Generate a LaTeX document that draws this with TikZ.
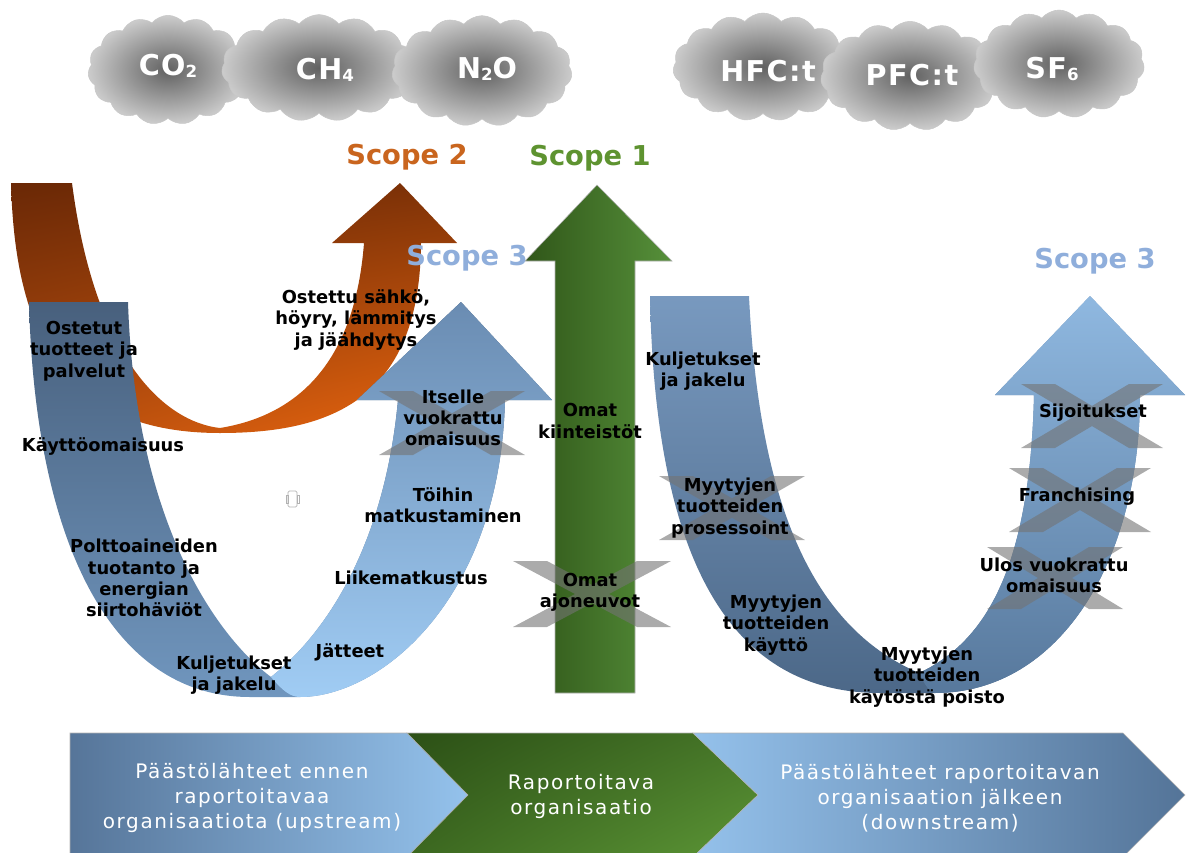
\documentclass[tikz,border=0pt]{standalone}
\usepackage{fontspec}
\setmainfont{DejaVu Sans}
\newfontfamily\cloudfont[LetterSpace=5]{DejaVu Sans}
\newfontfamily\chevfont[LetterSpace=8]{DejaVu Sans}
\usetikzlibrary{shapes.symbols,shadings}
\definecolor{sctwo}{HTML}{C9651E}
\definecolor{scone}{HTML}{5E9330}
\definecolor{scthree}{HTML}{8FAEDB}
\definecolor{orUL}{HTML}{6A2806}
\definecolor{orUR}{HTML}{7E3207}
\definecolor{orLL}{HTML}{B44D0E}
\definecolor{orLR}{HTML}{EA660E}
\definecolor{luDT}{HTML}{48607D}
\definecolor{luDB}{HTML}{7096BE}
\definecolor{luRT}{HTML}{6A8CB2}
\definecolor{luRB}{HTML}{A0CCF4}
\definecolor{grL}{HTML}{305619}
\definecolor{grR}{HTML}{56903A}
\definecolor{ruDT}{HTML}{7899BF}
\definecolor{ruDB}{HTML}{4C6888}
\definecolor{ruRT}{HTML}{8FB8E0}
\definecolor{ruRB}{HTML}{57789C}
\definecolor{chL1}{HTML}{567599}
\definecolor{chR1}{HTML}{94C2EC}
\definecolor{cgUL}{HTML}{2C5016}
\definecolor{cgUR}{HTML}{467628}
\definecolor{cgLL}{HTML}{3C6820}
\definecolor{cgLR}{HTML}{5C9636}
\definecolor{chL3}{HTML}{94C1EB}
\definecolor{chR3}{HTML}{547498}
\newcommand\gsub[1]{\raisebox{-2pt}{\fontsize{12.5}{12.5}\selectfont #1}}
\newcommand\grayx[4]{%
  \fill[xfill] ({#1-#3},{#2-#4}) -- ({#1-#3+34},{#2-#4}) -- ({#1+#3},{#2+#4}) -- ({#1+#3-34},{#2+#4}) -- cycle
               ({#1-#3+34},{#2+#4}) -- ({#1-#3},{#2+#4}) -- ({#1+#3-34},{#2-#4}) -- ({#1+#3},{#2-#4}) -- cycle;}
\begin{document}
\begin{tikzpicture}[x=0.75pt,y=-0.75pt,
  cloudnode/.style={cloud, cloud puffs=15, cloud puff arc=100, cloud ignores aspect, draw=black!22, line width=0.4pt, shade, inner color=black!62, outer color=black!20, inner sep=0pt},
  cloudtxt/.style={text=white, font=\cloudfont\bfseries\fontsize{21.5}{24}\selectfont, inner sep=0pt},
  scopetxt/.style={font=\bfseries\fontsize{20.5}{24}\selectfont, inner sep=0pt},
  lbl/.style={font=\bfseries\fontsize{13.4}{16}\selectfont, align=center, text=black, inner sep=0pt},
  chevtxt/.style={font=\chevfont\fontsize{15}{18.75}\selectfont, align=center, text=white, inner sep=0pt},
  xfill/.style={fill=black!55, fill opacity=0.6},
  edge/.style={draw=white!70!black, line width=0.4pt}
]
\useasboundingbox (0,0) rectangle (1186,853);

% ---------- clouds ----------
\node[cloudnode, minimum width=120pt, minimum height=82pt] (cl1) at (168,70) {};
\node[cloudnode, minimum width=146pt, minimum height=80pt] (cl2) at (319,68) {};
\node[cloudnode, minimum width=135pt, minimum height=83pt] (cl3) at (482,71) {};
\node[cloudnode, minimum width=135pt, minimum height=81pt] (cl4) at (763,67) {};
\node[cloudnode, minimum width=134pt, minimum height=82pt] (cl5) at (910,76) {};
\node[cloudnode, minimum width=128pt, minimum height=81pt] (cl6) at (1059,64) {};
\node[cloudtxt] (co2) at (168,66) {CO\gsub{2}};
\node[cloudtxt] (ch4) at (325,70) {CH\gsub{4}};
\node[cloudtxt] (n2o) at (487,69) {N\gsub{2}O};
\node[cloudtxt] (hfc) at (768,71) {HFC:t};
\node[cloudtxt] (pfc) at (912,75) {PFC:t};
\node[cloudtxt] (sf6) at (1052,69) {SF\gsub{6}};

% ---------- Scope 2 (orange) ----------
\shade[upper left=orUL, upper right=orUR, lower left=orLL, lower right=orLR]
  (11,183) .. controls (15,330) and (60,433) .. (220,433)
  .. controls (330,433) and (420,400) .. (421,243)
  -- (457,243) -- (400,183) -- (332,243) -- (364,243)
  .. controls (355,360) and (300,415) .. (220,428)
  .. controls (165,422) and (95,360) .. (72,183) -- cycle;

% ---------- left U (Scope 3 upstream) ----------
\shade[top color=luDT, bottom color=luDB]
  (29,302) .. controls (35,540) and (110,697) .. (250,697)
  -- (300,697) .. controls (380,697) and (500,600) .. (505,400)
  -- (552,400) -- (461,302) -- (357,400) -- (398,400)
  .. controls (385,540) and (330,630) .. (271,677)
  .. controls (215,635) and (135,520) .. (128,302) -- cycle;
\shade[top color=luRT, bottom color=luRB]
  (271,677) .. controls (282,690) and (290,697) .. (300,697)
  .. controls (380,697) and (500,600) .. (505,400)
  -- (552,400) -- (461,302) -- (357,400) -- (398,400)
  .. controls (385,540) and (330,630) .. (271,677) -- cycle;

% ---------- Scope 1 (green) ----------
\shade[edge, left color=grL, right color=grR]
  (555,693) -- (555,261) -- (525,261) -- (597,185) -- (672,261) -- (635,261) -- (635,693) -- cycle;

% ---------- right U (Scope 3 downstream) ----------
\shade[top color=ruDT, bottom color=ruDB]
  (650,296) .. controls (655,560) and (730,693) .. (880,693)
  -- (935,693) .. controls (1060,693) and (1140,560) .. (1140,395)
  -- (1185,395) -- (1090,296) -- (995,395) -- (1034,395)
  .. controls (1030,560) and (990,640) .. (919,673)
  .. controls (820,630) and (760,520) .. (749,296) -- cycle;
\shade[top color=ruRT, bottom color=ruRB]
  (919,673) .. controls (925,685) and (930,693) .. (935,693)
  .. controls (1060,693) and (1140,560) .. (1140,395)
  -- (1185,395) -- (1090,296) -- (995,395) -- (1034,395)
  .. controls (1030,560) and (990,640) .. (919,673) -- cycle;

% small icon
\draw[black!30, line width=0.5pt, rounded corners=1pt] (288,491) rectangle (297,507);
\draw[black!30, line width=0.5pt] (286,495) rectangle (288,503) (297,495) rectangle (299,503);

% ---------- crosses ----------
\grayx{452}{423}{73}{32}
\grayx{592}{594}{79}{33}
\grayx{732}{508}{73}{32}
\grayx{1092}{416}{71}{32}
\grayx{1080}{500}{71}{32}
\grayx{1055}{578}{68}{31}

% ---------- scope labels ----------
\node[scopetxt, text=sctwo] (s2) at (407,157) {Scope 2};
\node[scopetxt, text=scone] (s1) at (590,158) {Scope 1};
\node[scopetxt, text=scthree] (s3a) at (467,258) {Scope 3};
\node[scopetxt, text=scthree] (s3b) at (1095,261) {Scope 3};

% ---------- labels ----------
\node[lbl] (l1) at (84,351) {Ostetut\\tuotteet ja\\palvelut};
\node[lbl] (l2) at (103,447) {Käyttöomaisuus};
\node[lbl] (l3) at (144,578) {Polttoaineiden\\tuotanto ja\\energian\\siirtohäviöt};
\node[lbl] (l4) at (234,675) {Kuljetukset\\ja jakelu};
\node[lbl] (l5) at (350,652) {Jätteet};
\node[lbl] (l6) at (411,578) {Liikematkustus};
\node[lbl] (l7) at (443,505) {Töihin\\matkustaminen};
\node[lbl] (l8) at (453,418) {Itselle\\vuokrattu\\omaisuus};
\node[lbl] (l9) at (356,320) {Ostettu sähkö,\\höyry, lämmitys\\ja jäähdytys};
\node[lbl] (l10) at (590,421) {Omat\\kiinteistöt};
\node[lbl] (l11) at (590,592) {Omat\\ajoneuvot};
\node[lbl] (l12) at (703,371) {Kuljetukset\\ja jakelu};
\node[lbl] (l13) at (730,508) {Myytyjen\\tuotteiden\\prosessoint};
\node[lbl] (l14) at (776,625) {Myytyjen\\tuotteiden\\käyttö};
\node[lbl] (l15) at (927,677) {Myytyjen\\tuotteiden\\käytöstä poisto};
\node[lbl] (l16) at (1054,575) {Ulos vuokrattu\\omaisuus};
\node[lbl] (l17) at (1077,497) {Franchising};
\node[lbl] (l18) at (1093,413) {Sijoitukset};

% ---------- chevrons ----------
\shade[edge, left color=chL1, right color=chR1]
  (70,733) -- (407,733) -- (468,795) -- (407,857) -- (70,857) -- cycle;
\shade[edge, upper left=cgUL, upper right=cgUR, lower left=cgLL, lower right=cgLR]
  (407,733) -- (693,733) -- (758,795) -- (693,857) -- (407,857) -- (468,795) -- cycle;
\shade[edge, left color=chL3, right color=chR3]
  (693,733) -- (1123,733) -- (1185,795) -- (1123,857) -- (693,857) -- (758,795) -- cycle;
\node[chevtxt] (ch1) at (252,798) {Päästölähteet ennen\\raportoitavaa\\organisaatiota (upstream)};
\node[chevtxt] (ch2) at (581,796) {Raportoitava\\organisaatio};
\node[chevtxt] (ch3) at (940,798) {Päästölähteet raportoitavan\\organisaation jälkeen\\(downstream)};
\end{tikzpicture}
\end{document}
